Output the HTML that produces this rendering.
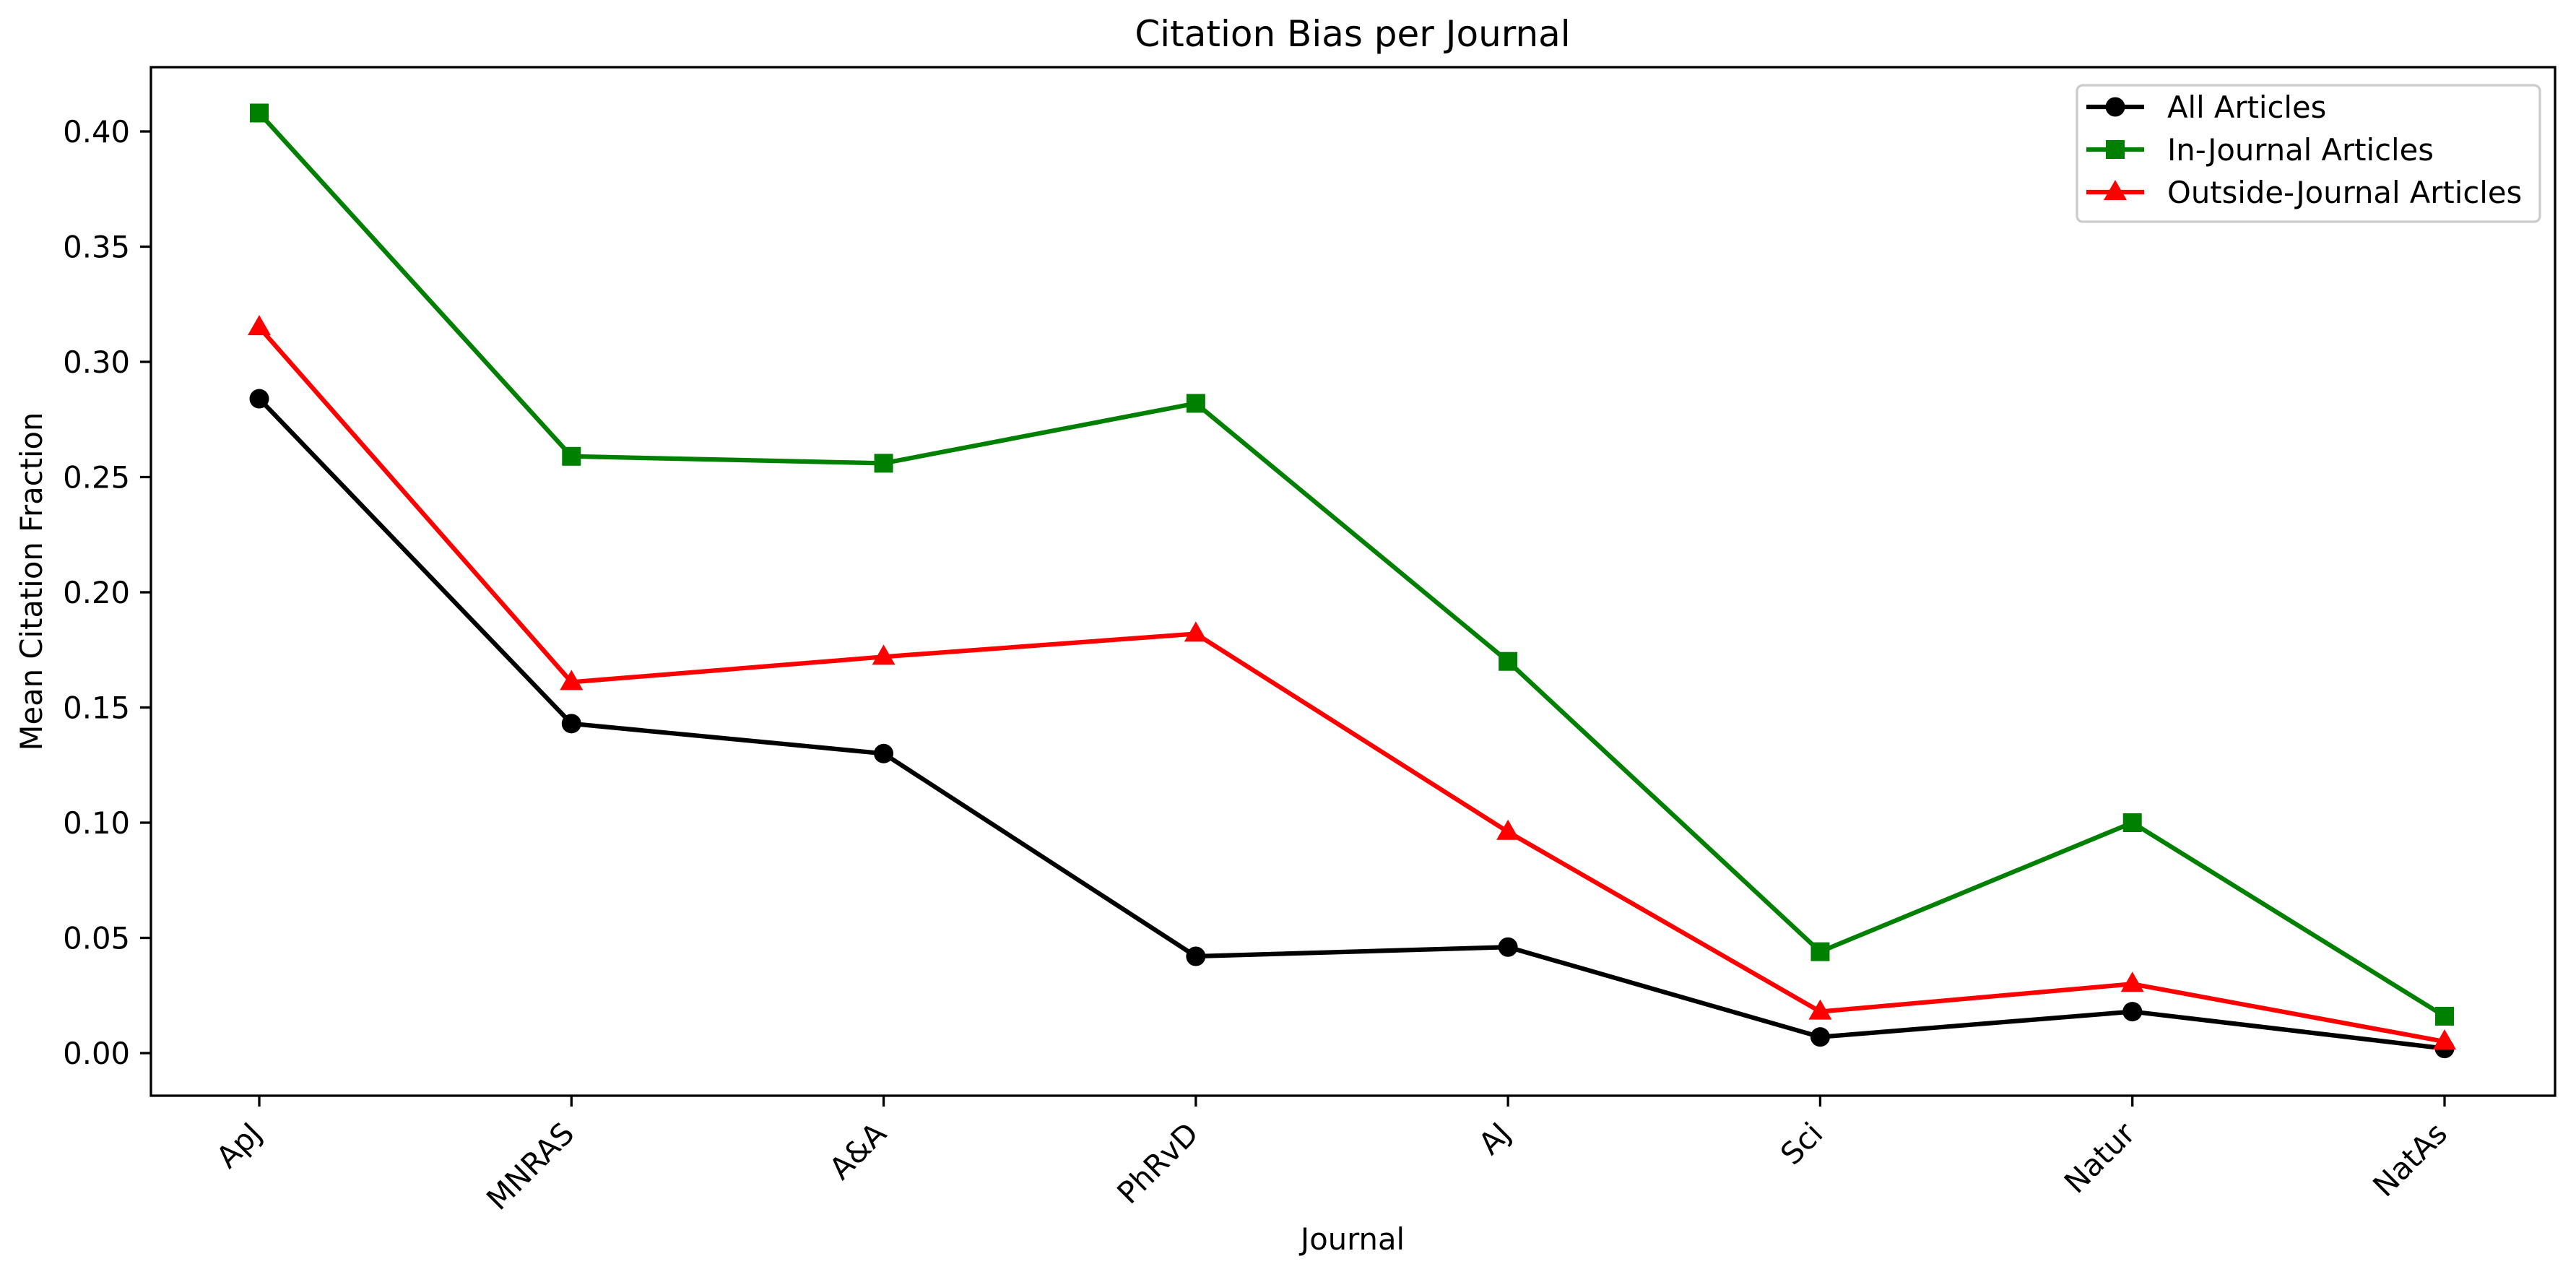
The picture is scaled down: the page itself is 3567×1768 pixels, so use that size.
<!DOCTYPE html>
<html><head><meta charset="utf-8"><style>
html,body{margin:0;padding:0;background:#fff;}
svg{display:block;font-family:"DejaVu Sans","Liberation Sans",sans-serif;}
</style></head><body>
<svg id="chart" width="3567" height="1768" viewBox="0 0 3567 1768" xmlns="http://www.w3.org/2000/svg">
<rect width="3567" height="1768" fill="#fff"/>
<text x="1873" y="64" font-size="50" text-anchor="middle">Citation Bias per Journal</text>
<g id="plot"></g>
<rect x="209" y="93" width="3329" height="1424" fill="none" stroke="#000" stroke-width="3.3"/>
<text transform="translate(58,805) rotate(-90)" font-size="41.7" text-anchor="middle">Mean Citation Fraction</text>
<text x="1873" y="1730" font-size="41.7" text-anchor="middle">Journal</text>
<g id="legend"></g>
</svg>
<script>
const categories = ["ApJ","MNRAS","A&A","PhRvD","AJ","Sci","Natur","NatAs"];
const allArticles = [0.284,0.143,0.130,0.042,0.046,0.007,0.018,0.002];
const inJournal = [0.408,0.259,0.256,0.282,0.170,0.044,0.100,0.016];
const outsideJournal = [0.315,0.161,0.172,0.182,0.096,0.018,0.030,0.005];
const yTicks = [0.00,0.05,0.10,0.15,0.20,0.25,0.30,0.35,0.40];
const seriesNames = ["All Articles","In-Journal Articles","Outside-Journal Articles"];

const NS="http://www.w3.org/2000/svg";
const X0=359, X1=3385;
function xScale(i){return X0+(X1-X0)*i/(categories.length-1);}
function yScale(v){return 1458+(182-1458)*v/0.40;}
function mk(tag,attrs,parent){const e=document.createElementNS(NS,tag);for(const k in attrs)e.setAttribute(k,attrs[k]);parent.appendChild(e);return e;}
const plot=document.getElementById('plot');
const svg=document.getElementById('chart');

yTicks.forEach(t=>{
  const y=yScale(t);
  const l=mk('line',{x1:194,x2:209,y1:y,y2:y,stroke:'#000','stroke-width':3.3},svg);
  
  
  const tx=mk('text',{x:180,y:y+15,'font-size':41.7,'text-anchor':'end'},svg);
  
  
  tx.textContent=t.toFixed(2);
});
categories.forEach((c,i)=>{
  const x=xScale(i);
  const l=mk('line',{x1:x,x2:x,y1:1517,y2:1532,stroke:'#000','stroke-width':3.3},svg);
  
  
  const tx=mk('text',{transform:`translate(${x+6},${1572}) rotate(-45)`,'font-size':41.7,'text-anchor':'end'},svg);
  
  
  tx.textContent=c;
});

function marker(type,x,y,color,parent){
  let e;
  if(type==='circle') e=mk('circle',{cx:x,cy:y,r:13.5,fill:color},parent);
  else if(type==='square') e=mk('rect',{x:x-13,y:y-13,width:26,height:26,fill:color},parent);
  else e=mk('polygon',{points:`${x},${y-17} ${x-16},${y+11} ${x+16},${y+11}`,fill:color},parent);
  return e;
}
const series=[[allArticles,'#000','circle'],[inJournal,'#008000','square'],[outsideJournal,'#ff0000','triangle']];
series.forEach(([vals,color,type],si)=>{
  const g=mk('g',{},plot);
  
  
  const pts=vals.map((v,i)=>xScale(i)+','+yScale(v)).join(' ');
  const pl=mk('polyline',{points:pts,fill:'none',stroke:color,'stroke-width':6.25,'stroke-linejoin':'round'},g);
  
  
  vals.forEach((v,i)=>{
    const m=marker(type,xScale(i),yScale(v),color,g);
    
    
  });
});

const lg=document.getElementById('legend');
const box=mk('rect',{x:2876,y:118,width:641,height:189,rx:8,fill:'#fff',stroke:'#ccc','stroke-width':3.3},lg);


series.forEach(([vals,color,type],si)=>{
  const y=148+si*59;
  const g=mk('g',{},lg);
  
  
  mk('line',{x1:2889,x2:2969,y1:y,y2:y,stroke:color,'stroke-width':6.25},g);
  marker(type,2929,y,color,g);
  const t=mk('text',{x:3001,y:y+15,'font-size':41.7},g);
  t.textContent=seriesNames[si];
});
</script>
</body></html>
